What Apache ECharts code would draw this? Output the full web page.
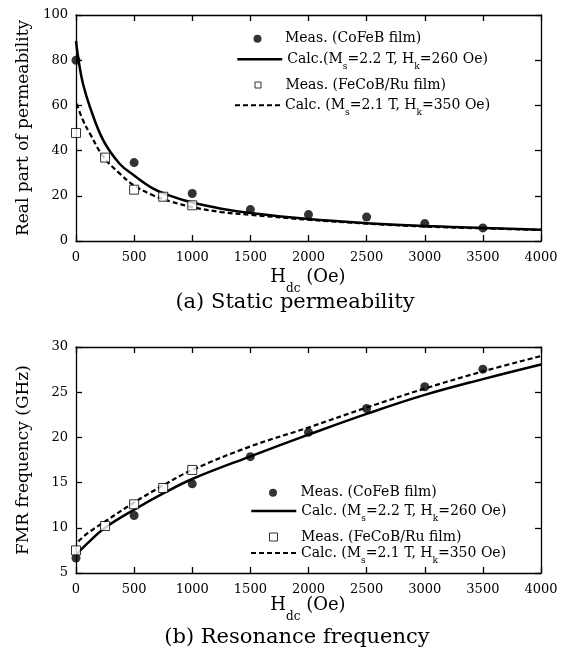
<!DOCTYPE html>
<html>
<head>
<meta charset="utf-8">
<script src="https://cdn.jsdelivr.net/npm/echarts@6/dist/echarts.min.js"></script>
<style>
html,body{margin:0;padding:0;background:#fff;}
#chart{width:570px;height:655px;}
</style>
</head>
<body>
<div id="chart"></div>
<script>
// ---------- data ----------
const xTickValues = [0, 500, 1000, 1500, 2000, 2500, 3000, 3500, 4000];

// (a) static permeability
const fieldMeasCoFeB = [0, 500, 1000, 1500, 2000, 2500, 3000, 3500];
const permMeasCoFeB = [80, 34.7, 21, 13.9, 11.7, 10.6, 7.7, 5.8];
const fieldMeasFeCoB = [0, 250, 500, 750, 1000];
const permMeasFeCoB = [47.8, 36.9, 22.7, 19.6, 15.8];
const fieldCalcPermCoFeB = [0, 25, 60, 120, 235, 375, 500, 660, 800, 1000, 1250, 1500, 2000, 2500, 3000, 3500, 4000];
const permCalcCoFeB = [88.5, 79, 69.6, 59.3, 44.5, 34.2, 29.0, 23.3, 20.2, 17.0, 14.3, 12.4, 9.7, 7.9, 6.6, 5.8, 5.0];
const fieldCalcPermFeCoB = [6, 60, 120, 237, 377, 500, 663, 806, 1000, 1250, 1500, 2000, 2500, 3000, 3500, 4000];
const permCalcFeCoB = [60.8, 53.4, 47.5, 37.2, 29.8, 24.6, 20.2, 17.6, 15, 12.8, 11.6, 9.4, 7.7, 6.4, 5.6, 4.9];

// (b) resonance frequency
const freqMeasCoFeB = [6.66, 11.36, 14.86, 17.87, 20.56, 23.2, 25.6, 27.55];
const freqMeasFeCoB = [7.5, 10.2, 12.6, 14.4, 16.4];
const fieldCalcFreqCoFeB = [0, 100, 250, 500, 750, 1000, 1500, 2000, 2500, 3000, 3500, 4000];
const freqCalcCoFeB = [7.0, 8.3, 10.0, 12.0, 13.8, 15.4, 17.9, 20.3, 22.6, 24.7, 26.45, 28.07];
const fieldCalcFreqFeCoB = [20, 100, 250, 500, 750, 1000, 1500, 2000, 2500, 3000, 3500, 4000];
const freqCalcFeCoB = [8.5, 9.4, 10.7, 12.8, 14.7, 16.4, 19.0, 21.1, 23.3, 25.4, 27.3, 29.0];

// texts
const nameMeasCoFeB = 'Meas. (CoFeB film)';
const nameMeasFeCoB = 'Meas. (FeCoB/Ru film)';
const nameCalcA1 = 'Calc.(Ms=2.2 T, Hk=260 Oe)';
const nameCalcA2 = 'Calc. (Ms=2.1 T, Hk=350 Oe)';
const nameCalcB1 = 'Calc. (Ms=2.2 T, Hk=260 Oe)';
const nameCalcB2 = 'Calc. (Ms=2.1 T, Hk=350 Oe)';
const yTitleA = 'Real part of permeability';
const yTitleB = 'FMR frequency (GHz)';
const captionA = '(a) Static permeability';
const captionB = '(b) Resonance frequency';

// ---------- helpers ----------
const pair = (xs, ys) => xs.map((x, i) => [x, ys[i]]);
const FONT = 'DejaVu Serif';
const legendRich = {
  n: { fontFamily: FONT, fontSize: 14, lineHeight: 24, color: '#000' },
  s: { fontFamily: FONT, fontSize: 9, lineHeight: 10, verticalAlign: 'bottom', color: '#000' }
};
const legendText = {
  [nameMeasCoFeB]: '{n|Meas. (CoFeB film)}',
  [nameMeasFeCoB]: '{n|Meas. (FeCoB/Ru film)}',
  [nameCalcA1]: '{n|Calc.(M}{s|s}{n|=2.2 T, H}{s|k}{n|=260 Oe)}',
  [nameCalcA2]: '{n|Calc. (M}{s|s}{n|=2.1 T, H}{s|k}{n|=350 Oe)}',
  [nameCalcB1]: '{n|Calc. (M}{s|s}{n|=2.2 T, H}{s|k}{n|=260 Oe)}'
};
const SQUARE_ICON = 'path://M0,0L10,0L10,10L0,10Z';
function mkLegend(item, left, top, itemWidth, itemHeight, extra) {
  return Object.assign({
    data: [item], left: left, top: top, padding: 0, orient: 'vertical',
    itemWidth: itemWidth, itemHeight: itemHeight, selectedMode: false,
    symbolKeepAspect: true,
    formatter: n => legendText[n] || n,
    textStyle: { rich: legendRich, fontFamily: FONT, fontSize: 14, color: '#000' }
  }, extra || {});
}
const lineLegendExtra = (w, type) => ({
  itemStyle: { color: 'transparent', borderColor: 'transparent', borderWidth: 0 },
  lineStyle: { color: '#000', width: w, type: type }
});
const squareLegendExtra = {
  itemStyle: { color: '#fff', borderColor: '#000', borderWidth: 1 }
};

const axisLineStyle = { color: '#000', width: 1.3 };
const labelStyle = { fontFamily: FONT, fontSize: 13, color: '#000' };

function xAxes(grid) {
  return [
    { type: 'value', gridIndex: grid, min: 0, max: 4000, interval: 500, position: 'bottom',
      axisLine: { show: true, onZero: false, lineStyle: axisLineStyle },
      axisTick: { show: true, inside: true, length: 6, lineStyle: axisLineStyle },
      axisLabel: Object.assign({ margin: 10, formatter: v => String(v) }, labelStyle),
      splitLine: { show: false } },
    { type: 'value', gridIndex: grid, min: 0, max: 4000, interval: 500, position: 'top',
      axisLine: { show: true, onZero: false, lineStyle: axisLineStyle },
      axisTick: { show: true, inside: true, length: 6, lineStyle: axisLineStyle },
      axisLabel: { show: false }, splitLine: { show: false } }
  ];
}
function yAxes(grid, min, max, interval, name) {
  return [
    { type: 'value', gridIndex: grid, min: min, max: max, interval: interval, position: 'left',
      name: name, nameLocation: 'middle', nameGap: 44, nameRotate: 90,
      nameTextStyle: { fontFamily: FONT, fontSize: 17, color: '#000' },
      axisLine: { show: true, onZero: false, lineStyle: axisLineStyle },
      axisTick: { show: true, inside: true, length: 6, lineStyle: axisLineStyle },
      axisLabel: Object.assign({ margin: 8, formatter: v => String(v) }, labelStyle),
      splitLine: { show: false } },
    { type: 'value', gridIndex: grid, min: min, max: max, interval: interval, position: 'right',
      axisLine: { show: true, onZero: false, lineStyle: axisLineStyle },
      axisTick: { show: true, inside: true, length: 6, lineStyle: axisLineStyle },
      axisLabel: { show: false }, splitLine: { show: false } }
  ];
}

function lineSeries(name, xi, yi, data, type, width) {
  return {
    name: name, type: 'line', xAxisIndex: xi, yAxisIndex: yi, data: data,
    symbol: 'none', smooth: 0.4, silent: true,
    lineStyle: { color: '#000', width: width, type: type },
    itemStyle: { color: '#000' }, z: 2
  };
}
function circleSeries(name, xi, yi, data) {
  return {
    name: name, type: 'scatter', xAxisIndex: xi, yAxisIndex: yi, data: data,
    symbol: 'circle', symbolSize: 9, silent: true,
    itemStyle: { color: '#000', borderColor: '#000', borderWidth: 0 }, z: 3
  };
}
function squareSeries(name, xi, yi, data) {
  return {
    name: name, type: 'scatter', xAxisIndex: xi, yAxisIndex: yi, data: data,
    symbol: 'rect', symbolSize: 9, silent: true,
    itemStyle: { color: '#fff', borderColor: '#000', borderWidth: 1 }, z: 3
  };
}

const titleRich = {
  h: { fontFamily: FONT, fontSize: 18, lineHeight: 35, color: '#000' },
  d: { fontFamily: FONT, fontSize: 12, lineHeight: 12, verticalAlign: 'bottom', color: '#000' }
};
function textEl(x, y, text, size, rich) {
  return {
    type: 'text', x: x, y: y, silent: true,
    style: { text: text, fontFamily: FONT, fontSize: size, fill: '#000',
      align: 'center', verticalAlign: 'middle', rich: rich }
  };
}

const chart = echarts.init(document.getElementById('chart'), null, { renderer: 'canvas' });
chart.setOption({
  backgroundColor: '#fff',
  animation: false,
  grid: [
    { left: 76, top: 15, width: 465, height: 226 },
    { left: 76, top: 347, width: 465, height: 226 }
  ],
  xAxis: xAxes(0).concat(xAxes(1)),
  yAxis: yAxes(0, 0, 100, 20, yTitleA).concat(yAxes(1, 5, 30, 5, yTitleB)),
  legend: [
    mkLegend(nameMeasCoFeB, 253.5, 31.7, 45, 8),
    mkLegend(nameCalcA1, 236, 52.3, 45, 8, lineLegendExtra(2.5, 'solid')),
    mkLegend({ name: nameMeasFeCoB, icon: SQUARE_ICON }, 254.5, 78, 45, 6, squareLegendExtra),
    mkLegend(nameCalcA2, 234, 98.3, 45, 8, lineLegendExtra(2, [5, 3])),
    mkLegend(nameMeasCoFeB, 269, 485.7, 45, 8),
    mkLegend(nameCalcB1, 250, 504, 45, 8, lineLegendExtra(2.5, 'solid')),
    mkLegend({ name: nameMeasFeCoB, icon: SQUARE_ICON }, 269, 530, 45, 8, squareLegendExtra),
    mkLegend(nameCalcB2, 250, 546, 45, 8, lineLegendExtra(2, [5, 3]))
  ],
  series: [
    lineSeries(nameCalcA1, 0, 0, pair(fieldCalcPermCoFeB, permCalcCoFeB), 'solid', 2.5),
    lineSeries(nameCalcA2, 0, 0, pair(fieldCalcPermFeCoB, permCalcFeCoB), [5, 3], 2.2),
    circleSeries(nameMeasCoFeB, 0, 0, pair(fieldMeasCoFeB, permMeasCoFeB)),
    squareSeries(nameMeasFeCoB, 0, 0, pair(fieldMeasFeCoB, permMeasFeCoB)),
    lineSeries(nameCalcB1, 2, 2, pair(fieldCalcFreqCoFeB, freqCalcCoFeB), 'solid', 2.5),
    lineSeries(nameCalcB2, 2, 2, pair(fieldCalcFreqFeCoB, freqCalcFeCoB), [5, 3], 2.2),
    circleSeries(nameMeasCoFeB, 2, 2, pair(fieldMeasCoFeB, freqMeasCoFeB)),
    squareSeries(nameMeasFeCoB, 2, 2, pair(fieldMeasFeCoB, freqMeasFeCoB))
  ],
  graphic: [
    textEl(308, 277, '{h|H}{d|dc}{h| (Oe)}', 18, titleRich),
    textEl(295, 303, captionA, 21),
    textEl(308, 605, '{h|H}{d|dc}{h| (Oe)}', 18, titleRich),
    textEl(297, 638, captionB, 21)
  ]
});
</script>
</body>
</html>
